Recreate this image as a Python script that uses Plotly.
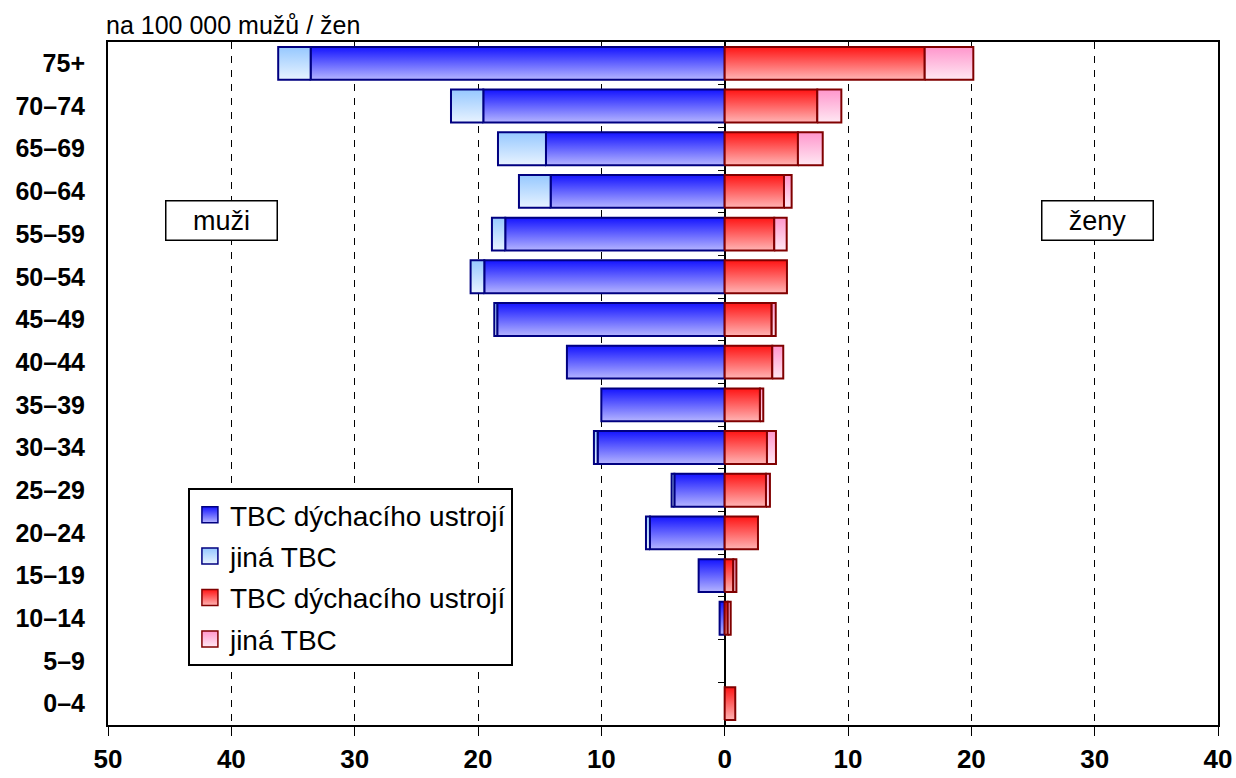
import plotly.graph_objects as go

categories = ["0–4", "5–9", "10–14", "15–19", "20–24", "25–29", "30–34", "35–39",
              "40–44", "45–49", "50–54", "55–59", "60–64", "65–69", "70–74", "75+"]

men_resp = [0, 0, 0.41, 2.11, 6.06, 4.08, 10.3, 10.0, 12.79, 18.44, 19.49, 17.79, 14.11, 14.49, 19.57, 33.57]
men_other = [0, 0, 0, 0, 0.32, 0.22, 0.3, 0, 0, 0.24, 1.11, 1.08, 2.57, 3.89, 2.62, 2.63]
women_resp = [0.86, 0, 0.25, 0.7, 2.7, 3.35, 3.43, 2.86, 3.86, 3.81, 5.05, 4.02, 4.81, 5.94, 7.51, 16.22]
women_other = [0, 0, 0.24, 0.25, 0, 0.32, 0.73, 0.27, 0.89, 0.33, 0, 1.01, 0.62, 2.01, 1.95, 3.94]

x_ticks = [-50, -40, -30, -20, -10, 0, 10, 20, 30, 40]
x_ticktext = [str(abs(v)) for v in x_ticks]

FONT = "Liberation Sans, Arial, sans-serif"
H = 0.385  # half bar thickness in category units

series = [
    dict(name="TBC dýchacího ustrojí", group="m1", sign=-1, base=None, vals=men_resp,
         line="#000080", light="#b4b4ff", dark="#1414ff"),
    dict(name="jiná TBC", group="m2", sign=-1, base=men_resp, vals=men_other,
         line="#000080", light="#e8f3ff", dark="#96c8ff"),
    dict(name="TBC dýchacího ustrojí", group="w1", sign=1, base=None, vals=women_resp,
         line="#800000", light="#ffb4b4", dark="#ff1414"),
    dict(name="jiná TBC", group="w2", sign=1, base=women_resp, vals=women_other,
         line="#800000", light="#ffe8f3", dark="#ff96cc"),
]

fig = go.Figure()

for s in series:
    # legend entry (square swatch with vertical gradient)
    fig.add_trace(go.Scatter(
        x=[None], y=[None], mode="markers", name=s["name"], legendgroup=s["group"],
        marker=dict(symbol="square", size=16, color=s["dark"],
                    gradient=dict(type="vertical", color=s["light"]),
                    line=dict(color=s["line"], width=1.5)),
        showlegend=True, hoverinfo="skip",
    ))
    for i, v in enumerate(s["vals"]):
        if v <= 0:
            continue
        b = s["base"][i] if s["base"] is not None else 0
        x0 = s["sign"] * b
        x1 = s["sign"] * (b + v)
        fig.add_trace(go.Scatter(
            x=[x0, x1, x1, x0, x0],
            y=[i - H, i - H, i + H, i + H, i - H],
            mode="lines",
            fill="toself",
            fillgradient=dict(type="vertical", colorscale=[[0, s["light"]], [1, s["dark"]]]),
            line=dict(color=s["line"], width=2),
            name=s["name"],
            legendgroup=s["group"],
            showlegend=False,
            hovertemplate=f"{categories[i]}: {v:.2f}<extra>{s['name']}</extra>",
        ))

# invisible trace to carry the category-boundary ticks at x = 0
fig.add_trace(go.Scatter(x=[0], y=[0], yaxis="y2", mode="markers",
                         marker=dict(opacity=0), showlegend=False, hoverinfo="skip"))

fig.update_layout(
    width=1236, height=778,
    margin=dict(l=108, r=18, t=42, b=53),
    paper_bgcolor="white", plot_bgcolor="white",
    font=dict(family=FONT, size=24, color="black"),
    xaxis=dict(
        range=[-50, 40], tickvals=x_ticks, ticktext=x_ticktext,
        showgrid=True, gridcolor="black", gridwidth=1, griddash="7px,7px",
        zeroline=True, zerolinecolor="black", zerolinewidth=1.5,
        showline=True, mirror=True, linecolor="black", linewidth=2,
        ticks="outside", ticklen=9, tickcolor="black", ticklabelstandoff=1,
        tickfont=dict(family=FONT, size=26, weight="bold"),
        automargin=False, fixedrange=True,
    ),
    yaxis=dict(
        range=[-0.5, 15.5], tickvals=list(range(len(categories))), ticktext=categories,
        showgrid=False, zeroline=False,
        showline=True, mirror=True, linecolor="black", linewidth=2,
        ticks="", ticklabelstandoff=16,
        tickfont=dict(family=FONT, size=25, weight="bold"),
        automargin=False, fixedrange=True,
    ),
    yaxis2=dict(
        overlaying="y", anchor="free", position=50 / 90, side="left",
        range=[-0.5, 15.5], tickvals=[i + 0.5 for i in range(len(categories) - 1)],
        ticks="outside", ticklen=7, tickcolor="black", tickwidth=1,
        showticklabels=False, showgrid=False, zeroline=False, showline=False,
        automargin=False, fixedrange=True,
    ),
    legend=dict(
        x=0.072, y=0.347, xanchor="left", yanchor="top",
        bgcolor="white", bordercolor="black", borderwidth=2,
        font=dict(family=FONT, size=28),
        traceorder="grouped", tracegroupgap=2,
        itemwidth=30,
    ),
    showlegend=True,
    annotations=[
        dict(text="na 100 000 mužů / žen", xref="paper", yref="paper", x=0, y=1,
             xanchor="left", yanchor="bottom", xshift=-4, yshift=1, showarrow=False,
             font=dict(family=FONT, size=25)),
        dict(text="muži", xref="paper", yref="paper", x=0.1027, y=0.739,
             xanchor="center", yanchor="middle", showarrow=False,
             width=108, height=36, bgcolor="white", bordercolor="black", borderwidth=1.5,
             font=dict(family=FONT, size=27)),
        dict(text="ženy", xref="paper", yref="paper", x=0.891, y=0.739,
             xanchor="center", yanchor="middle", showarrow=False,
             width=108, height=36, bgcolor="white", bordercolor="black", borderwidth=1.5,
             font=dict(family=FONT, size=27)),
    ],
)

fig.write_html("out.html", config={"displayModeBar": False},
               post_script="document.body.style.margin='0';")
